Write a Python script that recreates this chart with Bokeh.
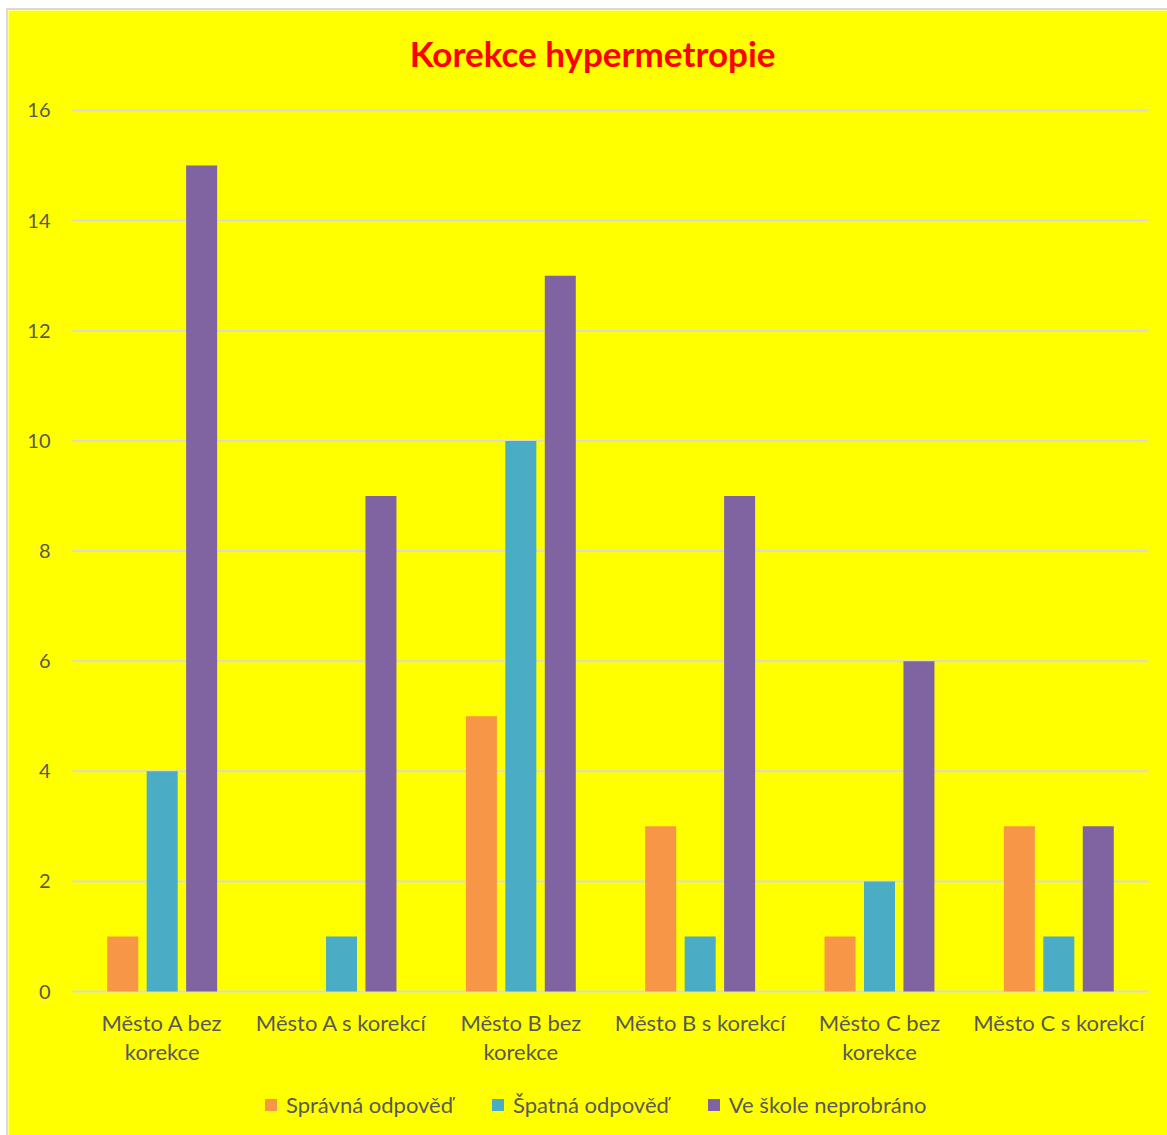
from bokeh.plotting import figure
from bokeh.models import Range1d, Legend, LegendItem, ColumnDataSource
from bokeh.core.properties import value
from bokeh.embed import file_html
from bokeh.resources import INLINE

# Data
categories = ["Město A bez korekce", "Město A s korekcí", "Město B bez korekce",
              "Město B s korekcí", "Město C bez korekce", "Město C s korekcí"]
label_line1 = ["Město A bez", "Město A s korekcí", "Město B bez",
               "Město B s korekcí", "Město C bez", "Město C s korekcí"]
label_line2 = ["korekce", "", "korekce", "", "korekce", ""]
series_names = ["Správná odpověď", "Špatná odpověď", "Ve škole neprobráno"]
spravna = [1, 0, 5, 3, 1, 3]
spatna = [4, 1, 10, 1, 2, 1]
neprobrano = [15, 9, 13, 9, 6, 3]
y_ticks = [0, 2, 4, 6, 8, 10, 12, 14, 16]

colors = ["#F79646", "#4BACC6", "#8064A2"]
FONT = "Lato"
TEXT = "#595959"
GRID = "#D9D9D9"
BG = "#FFFF00"

n = len(categories)
xpos = [i + 0.5 for i in range(n)]  # category slots of width 1
source = ColumnDataSource(dict(x=xpos, s0=spravna, s1=spatna, s2=neprobrano,
                               l1=label_line1, l2=label_line2, base=[0] * n))

# The frame fills the whole canvas; the value axis runs 0..16 over 881 px
p = figure(
    width=1159, height=1125, margin=(10, 0, 0, 8),
    x_range=Range1d(-0.357, n + 0.106),
    y_range=Range1d(-2.615, 17.816),
    output_backend="svg", toolbar_location=None, tools="",
    x_axis_location=None, y_axis_location=None,
    background_fill_color=BG, border_fill_color=BG, outline_line_color=None,
    min_border=0,
)
p.styles = {"outline": "2px solid #D9D9D9"}
p.grid.visible = False

# Horizontal gridlines across the category slots
p.segment(x0=0, y0=y_ticks, x1=n, y1=y_ticks, line_color=GRID, line_width=2)

# Value tick labels
p.text(x=[0] * len(y_ticks), y=y_ticks, text=[str(t) for t in y_ticks], x_offset=-22,
       text_align="right", text_baseline="middle", text_font=value(FONT),
       text_font_size="20px", text_color=TEXT)

# Bars
offsets = [-0.22, 0.0, 0.22]
items = []
for i, (name, col, off) in enumerate(zip(series_names, colors, offsets)):
    r = p.vbar(x=[v + off for v in xpos], top=source.data[f"s{i}"], width=0.173,
               fill_color=col, line_color=None)
    items.append(LegendItem(label=name, renderers=[r]))

# Category labels, two lines below the baseline
for col, off in (("l1", 31), ("l2", 60)):
    p.text(x="x", y="base", text=col, source=source, y_offset=off,
           text_align="center", text_baseline="middle", text_font=value(FONT),
           text_font_size="22px", text_color=TEXT)

# Title
p.text(x=[n / 2 - 0.1], y=[17.04], text=["Korekce hypermetropie"],
       text_align="center", text_baseline="middle", text_font=value(FONT),
       text_font_style="bold", text_font_size="35px", text_color="#FF0000")

legend = Legend(items=items, orientation="horizontal", location=(255, 17),
                border_line_color=None, background_fill_alpha=0,
                label_text_font=FONT, label_text_font_size="22px", label_text_color=TEXT,
                glyph_width=15, glyph_height=15, label_standoff=8, spacing=37,
                margin=0, padding=0)
p.add_layout(legend, "center")

open("out.html", "w").write(file_html(p, INLINE))
